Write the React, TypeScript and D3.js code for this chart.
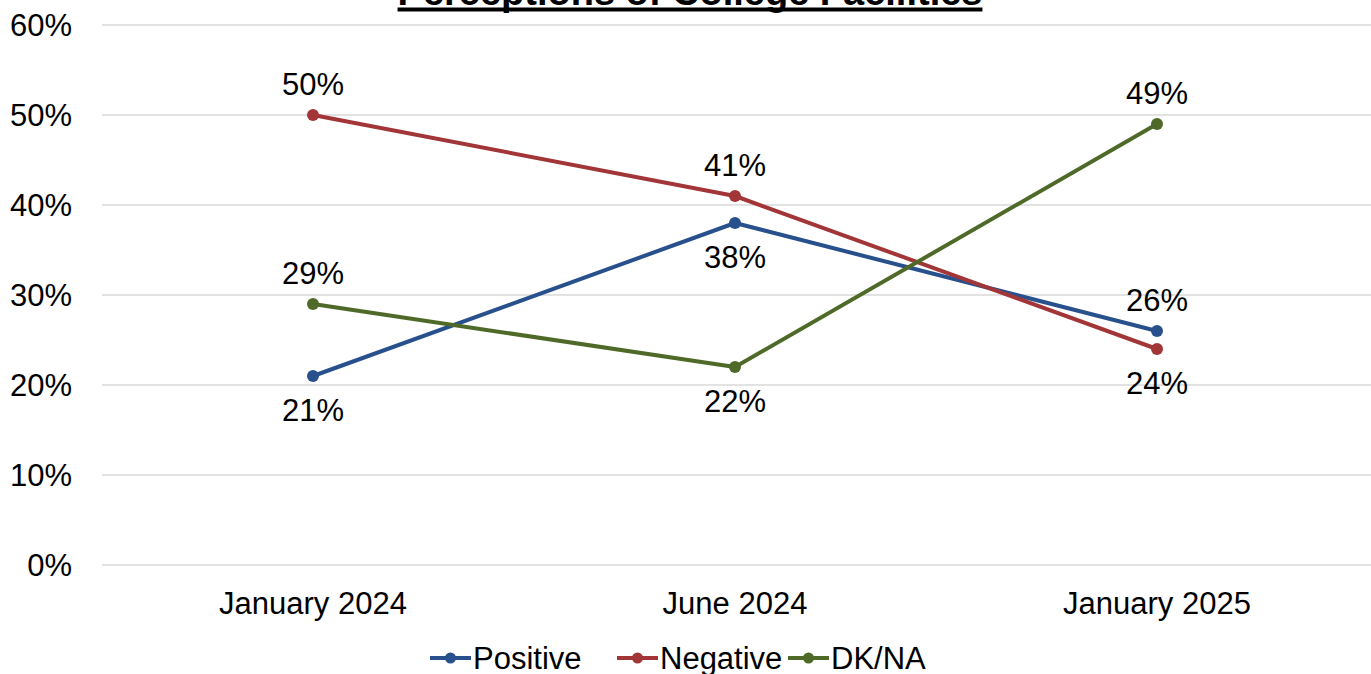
import React, { useEffect, useRef } from 'react';
import * as d3 from 'd3';

const categories = ['January 2024', 'June 2024', 'January 2025'];
const positive = [21, 38, 26];
const negative = [50, 41, 24];
const dkna = [29, 22, 49];
const yTicks = [0, 10, 20, 30, 40, 50, 60];

// label above (-1) or below (1) the point
const series = [
  { name: 'Positive', values: positive, color: '#28508c', side: [1, 1, -1] },
  { name: 'Negative', values: negative, color: '#a23538', side: [-1, -1, 1] },
  { name: 'DK/NA', values: dkna, color: '#4f6a28', side: [-1, 1, -1] },
];

const W = 1371;
const H = 674;
const FONT = 'Liberation Sans, Arial, sans-serif';
const FS = '31px';

const App = () => {
  const svgRef = useRef<SVGSVGElement>(null);

  useEffect(() => {
    const svg = d3.select(svgRef.current);
    svg.selectAll('*').remove();

    const margin = { top: 25, right: 3, bottom: 109, left: 102 };
    const innerW = W - margin.left - margin.right;
    const innerH = H - margin.top - margin.bottom;

    const x = d3.scaleBand().domain(categories).range([0, innerW]);
    const y = d3.scaleLinear().domain([0, 60]).range([innerH, 0]);
    const cx = (c: string) => (x(c) as number) + x.bandwidth() / 2;

    const g = svg.append('g').attr('transform', `translate(${margin.left},${margin.top})`);

    // grid lines + y tick labels
    yTicks.forEach(t => {
      g.append('line')
        .attr('x1', 0).attr('x2', innerW + margin.right)
        .attr('y1', y(t)).attr('y2', y(t))
        .attr('stroke', '#d9d9d9').attr('stroke-width', 1.3);
      g.append('text')
        .attr('x', -30).attr('y', y(t)).attr('dy', '0.36em')
        .attr('text-anchor', 'end')
        .style('font-family', FONT).style('font-size', FS).style('fill', '#000')
        .text(`${t}%`);
    });

    // category labels
    categories.forEach(c => {
      g.append('text')
        .attr('x', cx(c)).attr('y', innerH + 38).attr('dy', '0.36em')
        .attr('text-anchor', 'middle')
        .style('font-family', FONT).style('font-size', FS).style('fill', '#000')
        .text(c);
    });

    const line = d3.line<number>()
      .x((_, i) => cx(categories[i]))
      .y(d => y(d));

    series.forEach(s => {
      g.append('path')
        .datum(s.values)
        .attr('d', line)
        .attr('fill', 'none')
        .attr('stroke', s.color)
        .attr('stroke-width', 4)
        .attr('stroke-linejoin', 'round');

      s.values.forEach((v, i) => {
        g.append('circle')
          .attr('cx', cx(categories[i])).attr('cy', y(v)).attr('r', 6)
          .attr('fill', s.color);
        g.append('text')
          .attr('x', cx(categories[i]))
          .attr('y', y(v) + (s.side[i] < 0 ? -31 : 34))
          .attr('dy', '0.36em')
          .attr('text-anchor', 'middle')
          .style('font-family', FONT).style('font-size', FS).style('fill', '#000')
          .text(`${v}%`);
      });
    });

    // title (clipped at top in the original)
    const title = svg.append('text')
      .attr('x', 690).attr('y', 5)
      .attr('text-anchor', 'middle')
      .style('font-family', FONT).style('font-size', '38px').style('font-weight', 'bold')
      .text('Perceptions of College Facilities');
    const bb = (title.node() as SVGTextElement).getBBox();
    svg.append('line')
      .attr('x1', bb.x).attr('x2', bb.x + bb.width)
      .attr('y1', 9.5).attr('y2', 9.5)
      .attr('stroke', '#000').attr('stroke-width', 4);

    // legend
    const legend = svg.append('g');
    const legendX = [430, 617, 788];
    series.forEach((s, i) => {
      const lg = legend.append('g').attr('transform', `translate(${legendX[i]},658)`);
      lg.append('line').attr('x1', 0).attr('x2', 41).attr('y1', 0).attr('y2', 0)
        .attr('stroke', s.color).attr('stroke-width', 4);
      lg.append('circle').attr('cx', 20.5).attr('cy', 0).attr('r', 5.5).attr('fill', s.color);
      lg.append('text').attr('x', 43).attr('y', 0).attr('dy', '0.36em')
        .style('font-family', FONT).style('font-size', FS).style('fill', '#000')
        .text(s.name);
    });
  }, []);

  return (
    <svg ref={svgRef} width={W} height={H}
      style={{ position: 'absolute', left: 0, top: 0, background: '#fff' }} />
  );
};

export default App;
